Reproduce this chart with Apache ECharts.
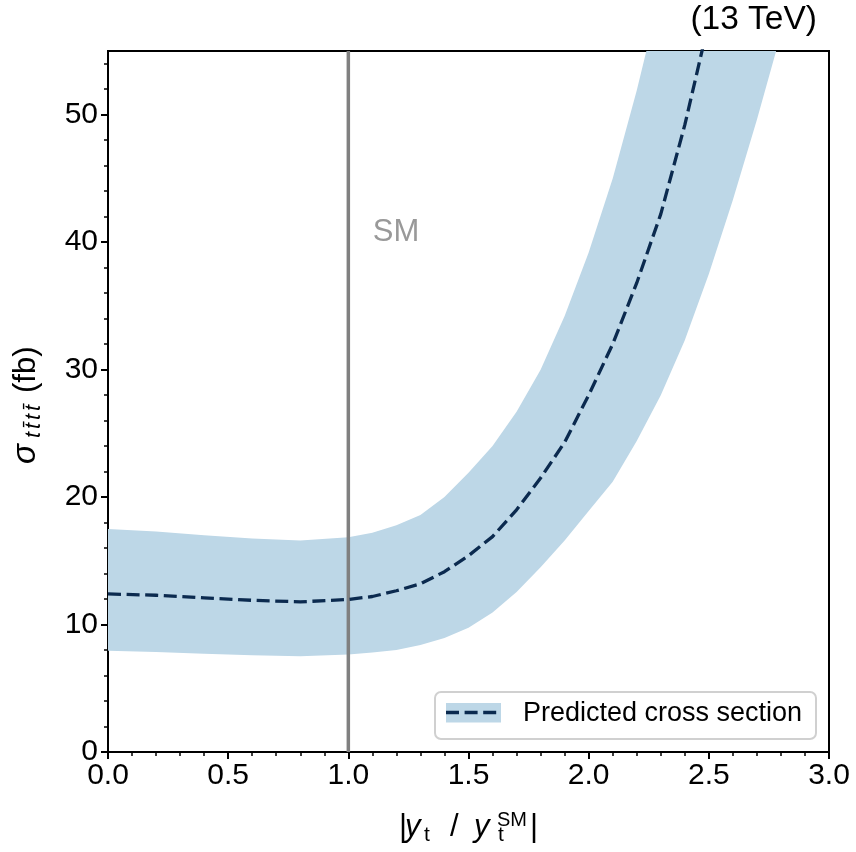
<!DOCTYPE html>
<html><head><meta charset="utf-8">
<script src="https://cdn.jsdelivr.net/npm/echarts@6/dist/echarts.min.js"></script>
<style>html,body{margin:0;padding:0;background:#fff}#c{width:856px;height:852px}</style>
</head><body><div id="c"></div>
<script>
// ---- data ----
const xCenter = [0, 0.2, 0.4, 0.6, 0.8, 1.0, 1.1, 1.2, 1.3, 1.4, 1.5, 1.6, 1.7, 1.8, 1.9, 2.0, 2.1, 2.2, 2.3, 2.4, 2.5];
const yCenter = [12.4, 12.3, 12.1, 11.9, 11.78, 11.97, 12.2, 12.65, 13.2, 14.15, 15.4, 16.9, 19.0, 21.5, 24.3, 28.0, 32.0, 36.8, 42.2, 49.2, 57.3];
const xUpper = [0, 0.2, 0.4, 0.6, 0.8, 1.0, 1.1, 1.2, 1.3, 1.4, 1.5, 1.6, 1.7, 1.8, 1.9, 2.0, 2.1, 2.2, 2.24];
const yUpper = [17.5, 17.3, 17.0, 16.75, 16.6, 16.85, 17.2, 17.8, 18.6, 20.0, 21.9, 24.0, 26.7, 30.0, 34.2, 39.2, 45.0, 51.9, 55];
const xLower = [0, 0.2, 0.4, 0.6, 0.8, 1.0, 1.1, 1.2, 1.3, 1.4, 1.5, 1.6, 1.7, 1.8, 1.9, 2.0, 2.1, 2.2, 2.3, 2.4, 2.5, 2.6, 2.7, 2.78];
const yLower = [7.95, 7.85, 7.7, 7.6, 7.52, 7.65, 7.8, 8.0, 8.4, 8.95, 9.75, 10.95, 12.55, 14.5, 16.6, 18.9, 21.2, 24.4, 28.0, 32.3, 37.5, 43.3, 49.6, 55];
const smX = [1.0, 1.0];
const smY = [0, 55];
const smLabelAt = [1.1, 40.8];
const yTickMajor = [0, 10, 20, 30, 40, 50];
const yTickMinor = [2, 4, 6, 8, 12, 14, 16, 18, 22, 24, 26, 28, 32, 34, 36, 38, 42, 44, 46, 48, 52, 54];
const legendLabel = 'Predicted cross section';
const energyLabel = '(13 TeV)';

// ---- presentation ----
const FONT = '"Liberation Sans", Arial, Helvetica, sans-serif';
const BAND = '#bdd7e7';
const NAVY = '#0b2a4f';
function txt(x, base, t, s, it, opts) {
  opts = opts || {};
  return { type: 'text', x: x, y: base - 0.35 * s, silent: true, z: opts.z || 0,
    style: { text: t, fontSize: s, fontFamily: FONT, fontStyle: it ? 'italic' : 'normal',
      fill: opts.color || '#000', align: opts.align || 'left', verticalAlign: 'middle' } };
}

const chart = echarts.init(document.getElementById('c'), null, { renderer: 'canvas' });

// x-axis title |y_t / y_t^SM|
const XB = 838;
const xLabelEls = [
  txt(399, XB, '|', 31),
  txt(405, XB, 'y', 31, true),
  txt(424, XB + 5, 't', 21),
  txt(450, XB, '/', 31),
  txt(474, XB, 'y', 31, true),
  txt(497, XB - 11, 'SM', 20),
  txt(498, XB + 5, 't', 21),
  txt(530, XB, '|', 31)
];
// y-axis title sigma_{t tbar t tbar} (fb), rotated; local x = -screenY
const yLabelEls = [
  txt(-464, 0, '\u03c3', 33, true),
  txt(-438, 5, 't', 22, true),
  txt(-429, 5, 't\u0304', 22, true),
  txt(-420, 5, 't', 22, true),
  txt(-411, 5, 't\u0304', 22, true),
  txt(-393, 0, '(fb)', 31)
];

const option = {
  animation: false,
  backgroundColor: '#fff',
  grid: { left: 108, right: 27, top: 51, bottom: 100, show: true, borderColor: '#000', borderWidth: 2, backgroundColor: 'transparent', outerBoundsMode: 'none' },
  xAxis: {
    type: 'value', min: 0, max: 3, interval: 0.5,
    axisLine: { show: true, onZero: false, lineStyle: { color: '#000', width: 2 } },
    axisTick: { show: true, length: 7, lineStyle: { color: '#000', width: 2 } },
    minorTick: { show: true, splitNumber: 5, length: 4, lineStyle: { color: '#000', width: 1.5 } },
    splitLine: { show: false },
    axisLabel: { formatter: v => v.toFixed(1), fontSize: 30, color: '#000', margin: 9, fontFamily: FONT, showMinLabel: true, showMaxLabel: true, hideOverlap: false }
  },
  yAxis: [{
    type: 'value', min: 0, max: 55, position: 'left',
    axisLine: { show: true, onZero: false, lineStyle: { color: '#000', width: 2 } },
    axisTick: { show: true, length: 7, customValues: yTickMajor, lineStyle: { color: '#000', width: 2 } },
    splitLine: { show: false },
    axisLabel: { customValues: yTickMajor, fontSize: 30, color: '#000', margin: 10, fontFamily: FONT }
  }, {
    type: 'value', min: 0, max: 55, position: 'left',
    axisLine: { show: false },
    axisTick: { show: true, length: 4, customValues: yTickMinor, lineStyle: { color: '#000', width: 1.5 } },
    splitLine: { show: false },
    axisLabel: { show: false }
  }],
  series: [{
    type: 'custom', name: legendLabel, xAxisIndex: 0, yAxisIndex: 0,
    data: [[0, 0]], silent: true, z: 1,
    renderItem: function (params, api) {
      const pts = [];
      for (let i = 0; i < xUpper.length; i++) pts.push(api.coord([xUpper[i], yUpper[i]]));
      for (let i = xLower.length - 1; i >= 0; i--) pts.push(api.coord([xLower[i], yLower[i]]));
      return { type: 'polygon', shape: { points: pts }, style: { fill: BAND, stroke: null } };
    }
  }, {
    type: 'line', name: 'SM', data: smX.map((x, i) => [x, smY[i]]), z: 2,
    symbol: 'none', silent: true, lineStyle: { color: '#808080', width: 3.5 }
  }, {
    type: 'scatter', data: [smLabelAt], symbolSize: 1, itemStyle: { color: 'rgba(0,0,0,0)' }, silent: true, z: 3,
    label: { show: true, formatter: 'SM', position: 'right', distance: 0, fontSize: 31, color: '#808080', fontFamily: FONT }
  }, {
    type: 'line', name: legendLabel, data: xCenter.map((x, i) => [x, yCenter[i]]), z: 4,
    symbol: 'none', silent: true, clip: true,
    lineStyle: { color: NAVY, width: 3.3, type: [13, 5.6] }
  }],
  graphic: [
    { type: 'group', x: 37, y: 0, rotation: Math.PI / 2, silent: true, children: yLabelEls },
    { type: 'group', silent: true, children: xLabelEls },
    txt(817, 31, energyLabel, 33.5, false, { align: 'right' }),
    { type: 'rect', shape: { x: 435, y: 692, width: 381, height: 47, r: 6 }, style: { fill: 'rgba(255,255,255,0.8)', stroke: '#d0d0d0', lineWidth: 2 }, silent: true, z: 10 },
    { type: 'rect', shape: { x: 446, y: 703, width: 55, height: 19.5 }, style: { fill: BAND }, silent: true, z: 11 },
    { type: 'line', shape: { x1: 446, y1: 712.5, x2: 501, y2: 712.5 }, style: { stroke: NAVY, lineWidth: 3.3, lineDash: [13, 5.6] }, silent: true, z: 12 },
    txt(523, 722.5, legendLabel, 27, false, { z: 12 })
  ]
};
chart.setOption(option);
</script>
</body></html>
